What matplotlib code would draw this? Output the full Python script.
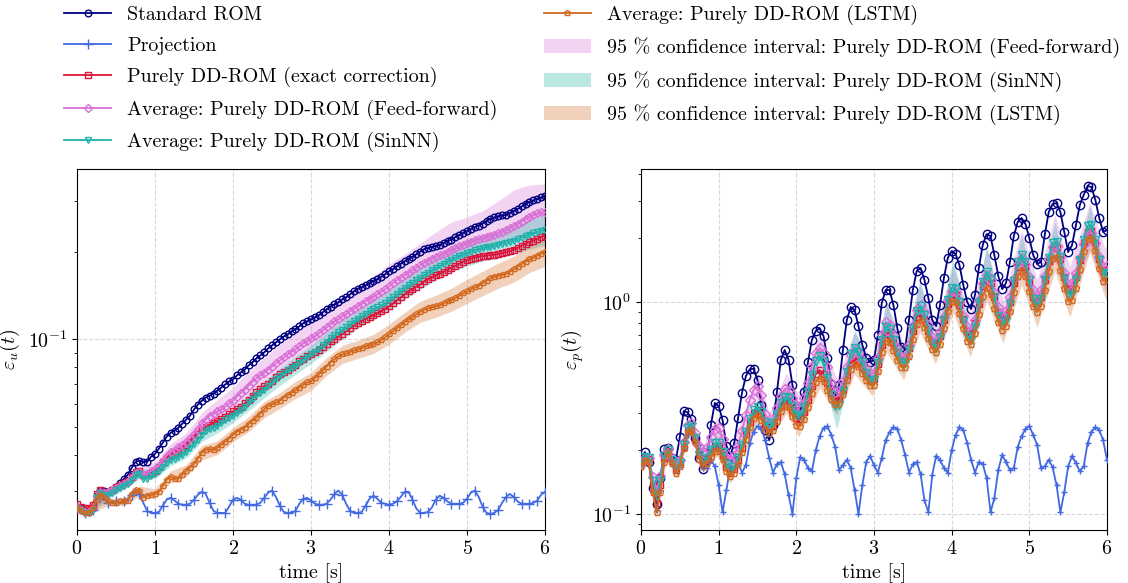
import numpy as np
import matplotlib
matplotlib.use("Agg")
import matplotlib.pyplot as plt
from matplotlib.ticker import NullFormatter

plt.rcParams.update({
    "font.family": "serif",
    "font.serif": ["cmr10"],
    "mathtext.fontset": "cm",
    "axes.formatter.use_mathtext": True,
    "font.size": 14.4,
})

# ---------------- data ----------------
t = np.round(np.arange(0, 6.0001, 0.05), 2)          # 121 samples
t_band_u = np.round(np.arange(0, 6.0001, 0.2), 2)    # 31 samples
t_band_p = [0, 0.08, 0.2, 0.33, 0.46, 0.63, 0.8, 0.98, 1.15, 1.5, 1.65, 1.87, 2.03,
            2.3, 2.52, 2.75, 2.98, 3.16, 3.38, 3.59, 3.79, 4.02, 4.24, 4.45, 4.66,
            4.9, 5.1, 5.33, 5.52, 5.78, 5.97, 6.0]

labels = ["Standard ROM", "Projection", "Purely DD-ROM (exact correction)",
          "Average: Purely DD-ROM (Feed-forward)", "Average: Purely DD-ROM (SinNN)",
          "Average: Purely DD-ROM (LSTM)",
          "95 % confidence interval: Purely DD-ROM (Feed-forward)",
          "95 % confidence interval: Purely DD-ROM (SinNN)",
          "95 % confidence interval: Purely DD-ROM (LSTM)"]

# velocity error eps_u
rom_u = [0.0265,0.0261,0.0256,0.0256,0.0263,0.0289,0.0300,0.0300,0.0298,0.0303,
         0.0310,0.0320,0.0330,0.0341,0.0360,0.0378,0.0381,0.0378,0.0378,0.0394,
         0.0403,0.0420,0.0440,0.0462,0.0476,0.0484,0.0496,0.0512,0.0529,0.0546,
         0.0573,0.0596,0.0615,0.0630,0.0640,0.0650,0.0666,0.0682,0.0699,0.0716,
         0.0727,0.0751,0.0769,0.0787,0.0813,0.0833,0.0860,0.0880,0.0902,0.0931,
         0.0953,0.0976,0.1000,0.1024,0.1040,0.1065,0.1083,0.1109,0.1136,0.1154,
         0.1173,0.1192,0.1211,0.1240,0.1270,0.1295,0.1321,0.1342,0.1375,0.1397,
         0.1431,0.1465,0.1495,0.1513,0.1538,0.1563,0.1588,0.1613,0.1645,0.1678,
         0.1719,0.1746,0.1788,0.1824,0.1861,0.1891,0.1921,0.1968,0.2007,0.2048,
         0.2064,0.2081,0.2098,0.2114,0.2148,0.2183,0.2209,0.2254,0.2290,0.2327,
         0.2364,0.2402,0.2440,0.2470,0.2509,0.2560,0.2601,0.2633,0.2654,0.2676,
         0.2686,0.2729,0.2773,0.2817,0.2874,0.2931,0.2978,0.3014,0.3050,0.3087,
         0.3112]
proj_u = [0.0263,0.0256,0.0252,0.0250,0.0258,0.0280,0.0286,0.0280,0.0273,0.0276,
          0.0276,0.0273,0.0276,0.0282,0.0291,0.0298,0.0293,0.0273,0.0256,0.0252,
          0.0252,0.0254,0.0267,0.0280,0.0284,0.0278,0.0271,0.0269,0.0269,0.0271,
          0.0280,0.0291,0.0298,0.0293,0.0273,0.0256,0.0252,0.0252,0.0252,0.0265,
          0.0280,0.0284,0.0280,0.0271,0.0269,0.0269,0.0269,0.0273,0.0284,0.0296,
          0.0301,0.0286,0.0267,0.0254,0.0252,0.0252,0.0256,0.0271,0.0282,0.0284,
          0.0278,0.0271,0.0269,0.0269,0.0271,0.0280,0.0293,0.0301,0.0291,0.0271,
          0.0256,0.0252,0.0252,0.0254,0.0267,0.0282,0.0289,0.0282,0.0273,0.0271,
          0.0269,0.0271,0.0276,0.0286,0.0298,0.0298,0.0280,0.0261,0.0252,0.0252,
          0.0254,0.0263,0.0280,0.0289,0.0284,0.0276,0.0271,0.0271,0.0271,0.0273,
          0.0282,0.0296,0.0301,0.0286,0.0265,0.0252,0.0250,0.0252,0.0258,0.0273,
          0.0286,0.0293,0.0286,0.0276,0.0271,0.0271,0.0271,0.0273,0.0278,0.0291,
          0.0298]
exact_u = [0.0271,0.0265,0.0261,0.0261,0.0269,0.0293,0.0303,0.0298,0.0298,0.0303,
           0.0310,0.0315,0.0320,0.0325,0.0336,0.0349,0.0352,0.0341,0.0341,0.0346,
           0.0352,0.0363,0.0378,0.0390,0.0400,0.0406,0.0413,0.0420,0.0433,0.0444,
           0.0458,0.0473,0.0488,0.0500,0.0508,0.0514,0.0521,0.0531,0.0541,0.0553,
           0.0564,0.0575,0.0584,0.0601,0.0620,0.0640,0.0658,0.0675,0.0691,0.0704,
           0.0721,0.0739,0.0757,0.0774,0.0787,0.0803,0.0819,0.0839,0.0856,0.0873,
           0.0891,0.0905,0.0919,0.0942,0.0965,0.0984,0.1004,0.1024,0.1044,0.1066,
           0.1092,0.1118,0.1140,0.1159,0.1178,0.1196,0.1210,0.1230,0.1250,0.1275,
           0.1300,0.1332,0.1364,0.1397,0.1431,0.1465,0.1489,0.1519,0.1550,0.1587,
           0.1613,0.1638,0.1665,0.1685,0.1711,0.1739,0.1766,0.1795,0.1824,0.1853,
           0.1876,0.1899,0.1914,0.1929,0.1937,0.1944,0.1952,0.1960,0.1968,0.1984,
           0.2000,0.2015,0.2040,0.2071,0.2105,0.2140,0.2165,0.2191,0.2218,0.2254,
           0.2280]
ff_u = [0.0265,0.0258,0.0254,0.0254,0.0261,0.0286,0.0298,0.0296,0.0298,0.0303,
        0.0307,0.0312,0.0318,0.0323,0.0333,0.0346,0.0349,0.0341,0.0344,0.0352,
        0.0358,0.0366,0.0381,0.0397,0.0409,0.0416,0.0426,0.0433,0.0444,0.0458,
        0.0473,0.0492,0.0513,0.0529,0.0546,0.0555,0.0564,0.0573,0.0586,0.0601,
        0.0615,0.0635,0.0655,0.0671,0.0693,0.0715,0.0734,0.0751,0.0768,0.0787,
        0.0806,0.0827,0.0846,0.0866,0.0887,0.0908,0.0923,0.0946,0.0969,0.0984,
        0.1008,0.1024,0.1048,0.1074,0.1100,0.1127,0.1154,0.1173,0.1200,0.1220,
        0.1250,0.1275,0.1300,0.1326,0.1353,0.1381,0.1403,0.1431,0.1460,0.1489,
        0.1525,0.1563,0.1600,0.1631,0.1665,0.1697,0.1732,0.1766,0.1802,0.1838,
        0.1868,0.1899,0.1929,0.1952,0.1976,0.2007,0.2032,0.2065,0.2097,0.2122,
        0.2149,0.2174,0.2200,0.2218,0.2236,0.2254,0.2271,0.2299,0.2327,0.2354,
        0.2383,0.2422,0.2459,0.2499,0.2549,0.2601,0.2642,0.2685,0.2718,0.2749,
        0.2761]
sin_u = [0.0263,0.0256,0.0252,0.0252,0.0258,0.0286,0.0296,0.0291,0.0291,0.0296,
         0.0303,0.0307,0.0312,0.0318,0.0328,0.0341,0.0344,0.0331,0.0331,0.0338,
         0.0344,0.0352,0.0363,0.0375,0.0384,0.0387,0.0394,0.0400,0.0409,0.0423,
         0.0436,0.0451,0.0469,0.0484,0.0492,0.0496,0.0504,0.0514,0.0525,0.0535,
         0.0546,0.0559,0.0571,0.0586,0.0606,0.0625,0.0642,0.0655,0.0671,0.0688,
         0.0710,0.0730,0.0745,0.0763,0.0781,0.0796,0.0812,0.0832,0.0850,0.0869,
         0.0887,0.0905,0.0927,0.0953,0.0980,0.1008,0.1032,0.1057,0.1079,0.1100,
         0.1127,0.1154,0.1178,0.1200,0.1225,0.1250,0.1270,0.1290,0.1310,0.1332,
         0.1364,0.1397,0.1431,0.1465,0.1501,0.1538,0.1562,0.1600,0.1631,0.1665,
         0.1697,0.1732,0.1760,0.1788,0.1817,0.1853,0.1883,0.1914,0.1937,0.1960,
         0.1984,0.2007,0.2032,0.2048,0.2064,0.2081,0.2088,0.2105,0.2122,0.2140,
         0.2156,0.2174,0.2191,0.2218,0.2245,0.2271,0.2299,0.2326,0.2345,0.2373,
         0.2392]
lstm_u = [0.0263,0.0256,0.0252,0.0252,0.0263,0.0280,0.0291,0.0284,0.0276,0.0273,
          0.0273,0.0276,0.0276,0.0278,0.0293,0.0303,0.0301,0.0284,0.0289,0.0291,
          0.0293,0.0298,0.0312,0.0328,0.0336,0.0331,0.0331,0.0341,0.0352,0.0361,
          0.0372,0.0387,0.0406,0.0416,0.0418,0.0416,0.0423,0.0433,0.0444,0.0455,
          0.0469,0.0480,0.0488,0.0496,0.0510,0.0523,0.0537,0.0554,0.0573,0.0589,
          0.0598,0.0606,0.0615,0.0630,0.0642,0.0655,0.0668,0.0682,0.0696,0.0710,
          0.0716,0.0736,0.0757,0.0781,0.0806,0.0832,0.0853,0.0873,0.0887,0.0894,
          0.0905,0.0916,0.0923,0.0934,0.0946,0.0953,0.0965,0.0976,0.0996,0.1016,
          0.1040,0.1066,0.1092,0.1118,0.1145,0.1173,0.1196,0.1220,0.1245,0.1265,
          0.1280,0.1290,0.1300,0.1310,0.1332,0.1353,0.1370,0.1392,0.1414,0.1443,
          0.1465,0.1489,0.1513,0.1531,0.1563,0.1594,0.1626,0.1646,0.1658,0.1671,
          0.1685,0.1711,0.1746,0.1781,0.1817,0.1853,0.1891,0.1914,0.1944,0.1976,
          0.2000]
ff_u_hi = [0.0271,0.0267,0.0307,0.0331,0.0366,0.0378,0.0436,0.0476,0.0559,0.0620,0.0682,
           0.0774,0.0866,0.0961,0.1057,0.1154,0.1270,0.1386,0.1513,0.1651,0.1817,0.1968,
           0.2149,0.2345,0.2539,0.2642,0.2773,0.3001,0.3277,0.3410,0.3438]
ff_u_lo = [0.0258,0.0254,0.0289,0.0305,0.0333,0.0341,0.0387,0.0420,0.0480,0.0525,0.0573,
           0.0645,0.0716,0.0787,0.0860,0.0931,0.1016,0.1109,0.1200,0.1290,0.1397,0.1513,
           0.1638,0.1746,0.1832,0.1937,0.2015,0.2097,0.2200,0.2345,0.2440]
sin_u_hi = [0.0269,0.0265,0.0301,0.0323,0.0358,0.0358,0.0403,0.0430,0.0496,0.0533,0.0578,
            0.0645,0.0716,0.0793,0.0873,0.0953,0.1057,0.1164,0.1270,0.1375,0.1489,0.1638,
            0.1788,0.1937,0.2081,0.2200,0.2290,0.2364,0.2459,0.2580,0.2685]
sin_u_lo = [0.0256,0.0252,0.0282,0.0303,0.0331,0.0331,0.0366,0.0390,0.0444,0.0476,0.0516,
            0.0568,0.0630,0.0693,0.0757,0.0826,0.0908,0.1000,0.1092,0.1173,0.1260,0.1375,
            0.1489,0.1600,0.1718,0.1788,0.1861,0.1906,0.1968,0.2048,0.2114]
lstm_u_hi = [0.0269,0.0269,0.0284,0.0284,0.0312,0.0305,0.0352,0.0369,0.0430,0.0447,0.0496,
             0.0541,0.0610,0.0655,0.0716,0.0768,0.0866,0.0953,0.0992,0.1040,0.1127,0.1240,
             0.1353,0.1420,0.1501,0.1613,0.1718,0.1832,0.1937,0.2097,0.2218]
lstm_u_lo = [0.0256,0.0254,0.0267,0.0267,0.0289,0.0282,0.0320,0.0336,0.0384,0.0400,0.0444,
             0.0480,0.0537,0.0578,0.0625,0.0666,0.0751,0.0826,0.0860,0.0894,0.0961,0.1057,
             0.1145,0.1192,0.1250,0.1332,0.1414,0.1501,0.1575,0.1700,0.1788]

# pressure error eps_p
rom_p = [0.180,0.196,0.176,0.133,0.112,0.148,0.203,0.205,0.184,0.180,
         0.231,0.306,0.302,0.280,0.228,0.184,0.163,0.180,0.263,0.334,
         0.323,0.278,0.210,0.188,0.216,0.284,0.373,0.447,0.482,0.485,
         0.429,0.327,0.249,0.223,0.263,0.377,0.533,0.594,0.533,0.406,
         0.317,0.306,0.377,0.521,0.662,0.730,0.754,0.691,0.544,0.411,
         0.356,0.406,0.594,0.822,0.947,0.917,0.770,0.627,0.544,0.521,
         0.533,0.699,0.989,1.139,1.139,0.968,0.754,0.613,0.600,0.822,
         1.139,1.400,1.447,1.270,1.044,0.822,0.770,0.968,1.298,1.613,
         1.740,1.683,1.495,1.203,1.000,0.926,1.079,1.447,1.857,2.092,
         2.047,1.666,1.326,1.151,1.229,1.543,2.047,2.383,2.491,2.332,
         2.004,1.666,1.510,1.543,2.092,2.656,2.898,2.931,2.656,2.138,
         1.720,1.857,2.307,2.868,3.198,3.525,3.486,3.028,2.491,2.138,
         2.186]
proj_p = [0.170,0.180,0.176,0.130,0.104,0.130,0.180,0.194,0.176,0.161,
          0.170,0.205,0.236,0.255,0.236,0.212,0.165,0.165,0.180,0.168,
          0.137,0.102,0.130,0.168,0.188,0.174,0.157,0.170,0.216,0.244,
          0.260,0.252,0.223,0.184,0.157,0.172,0.176,0.154,0.123,0.100,
          0.148,0.186,0.180,0.165,0.159,0.200,0.233,0.255,0.260,0.236,
          0.207,0.161,0.170,0.180,0.165,0.130,0.100,0.137,0.176,0.188,
          0.170,0.157,0.184,0.223,0.244,0.257,0.252,0.223,0.190,0.157,
          0.172,0.176,0.154,0.116,0.102,0.153,0.188,0.180,0.165,0.157,
          0.200,0.236,0.257,0.249,0.216,0.180,0.157,0.176,0.172,0.148,
          0.102,0.119,0.161,0.190,0.176,0.161,0.165,0.207,0.233,0.252,
          0.260,0.236,0.212,0.165,0.168,0.180,0.166,0.137,0.102,0.127,
          0.168,0.188,0.174,0.159,0.168,0.216,0.244,0.257,0.249,0.223,
          0.180]
exact_p = [0.172,0.184,0.182,0.137,0.113,0.137,0.184,0.198,0.178,0.161,
           0.172,0.207,0.249,0.255,0.223,0.190,0.176,0.182,0.196,0.210,
           0.210,0.190,0.166,0.157,0.163,0.180,0.205,0.238,0.272,0.299,
           0.309,0.296,0.266,0.255,0.263,0.290,0.323,0.345,0.341,0.309,
           0.284,0.280,0.302,0.345,0.402,0.457,0.478,0.457,0.415,0.373,
           0.348,0.352,0.389,0.452,0.516,0.544,0.533,0.493,0.457,0.433,
           0.433,0.510,0.627,0.714,0.699,0.641,0.581,0.538,0.538,0.607,
           0.730,0.849,0.888,0.831,0.730,0.655,0.634,0.691,0.822,0.978,
           1.090,1.079,0.968,0.831,0.730,0.706,0.796,0.978,1.190,1.298,
           1.229,1.055,0.897,0.822,0.858,1.000,1.229,1.462,1.561,1.462,
           1.242,1.055,0.989,1.055,1.270,1.561,1.798,1.816,1.594,1.311,
           1.151,1.165,1.311,1.578,1.898,2.138,2.162,1.898,1.594,1.400,
           1.416]
ff_p = [0.174,0.184,0.184,0.150,0.130,0.151,0.190,0.203,0.184,0.168,
        0.180,0.218,0.263,0.269,0.241,0.210,0.196,0.205,0.231,0.252,
        0.255,0.226,0.194,0.180,0.188,0.210,0.246,0.293,0.345,0.385,
        0.402,0.364,0.296,0.269,0.280,0.317,0.360,0.389,0.385,0.352,
        0.327,0.323,0.352,0.415,0.498,0.575,0.607,0.575,0.493,0.415,
        0.377,0.381,0.424,0.493,0.562,0.594,0.575,0.533,0.488,0.457,
        0.463,0.544,0.699,0.804,0.779,0.699,0.607,0.556,0.550,0.627,
        0.770,0.917,0.968,0.897,0.779,0.684,0.662,0.722,0.849,1.022,
        1.126,1.114,1.000,0.858,0.762,0.738,0.822,1.022,1.229,1.341,
        1.270,1.103,0.947,0.868,0.907,1.055,1.283,1.510,1.613,1.510,
        1.311,1.139,1.067,1.139,1.326,1.594,1.816,1.837,1.629,1.371,
        1.215,1.229,1.371,1.613,1.877,2.092,2.116,1.898,1.629,1.462,
        1.479]
sin_p = [0.174,0.186,0.184,0.143,0.122,0.143,0.188,0.200,0.180,0.163,
         0.174,0.212,0.255,0.260,0.228,0.190,0.176,0.184,0.200,0.216,
         0.216,0.196,0.172,0.161,0.166,0.184,0.212,0.244,0.280,0.309,
         0.320,0.302,0.272,0.257,0.269,0.296,0.334,0.356,0.352,0.323,
         0.293,0.290,0.320,0.377,0.452,0.527,0.556,0.521,0.438,0.364,
         0.323,0.327,0.381,0.467,0.568,0.607,0.581,0.521,0.463,0.424,
         0.429,0.516,0.662,0.762,0.746,0.662,0.575,0.521,0.516,0.594,
         0.746,0.907,0.957,0.868,0.738,0.634,0.607,0.677,0.822,1.022,
         1.165,1.151,1.000,0.813,0.691,0.662,0.762,0.989,1.242,1.385,
         1.283,1.055,0.858,0.779,0.813,0.978,1.256,1.543,1.666,1.543,
         1.270,1.033,0.957,1.033,1.270,1.613,1.898,1.918,1.629,1.283,
         1.090,1.090,1.270,1.578,1.961,2.282,2.307,1.961,1.578,1.355,
         1.371]
lstm_p = [0.168,0.180,0.176,0.127,0.102,0.127,0.176,0.194,0.174,0.157,
          0.168,0.205,0.244,0.249,0.218,0.182,0.168,0.174,0.186,0.198,
          0.198,0.182,0.159,0.151,0.156,0.172,0.196,0.226,0.257,0.284,
          0.293,0.278,0.253,0.241,0.249,0.275,0.306,0.323,0.320,0.290,
          0.263,0.260,0.280,0.320,0.373,0.420,0.438,0.424,0.385,0.348,
          0.330,0.334,0.368,0.429,0.485,0.510,0.498,0.463,0.429,0.406,
          0.406,0.473,0.581,0.658,0.647,0.594,0.533,0.493,0.493,0.556,
          0.669,0.787,0.822,0.762,0.673,0.600,0.581,0.634,0.754,0.907,
          1.011,1.000,0.888,0.754,0.658,0.634,0.714,0.878,1.067,1.165,
          1.090,0.942,0.804,0.741,0.770,0.907,1.114,1.326,1.416,1.326,
          1.126,0.957,0.897,0.957,1.139,1.400,1.613,1.629,1.416,1.165,
          1.011,1.022,1.165,1.424,1.740,1.981,2.004,1.750,1.440,1.260,
          1.283]
ff_p_hi = [0.182,0.196,0.135,0.214,0.178,0.290,0.210,0.287,0.196,0.467,0.299,0.463,0.364,
           0.714,0.434,0.722,0.527,1.000,0.634,1.229,0.770,1.479,0.868,1.779,1.033,2.186,
           1.270,2.573,1.462,2.962,1.798,1.837]
ff_p_lo = [0.165,0.178,0.122,0.194,0.157,0.252,0.180,0.233,0.163,0.360,0.241,0.352,0.284,
           0.538,0.330,0.521,0.397,0.706,0.473,0.840,0.575,0.989,0.634,1.151,0.738,1.371,
           0.897,1.561,1.000,1.759,1.139,1.114]
sin_p_hi = [0.182,0.198,0.129,0.212,0.172,0.278,0.186,0.239,0.172,0.356,0.275,0.410,0.306,
            0.647,0.348,0.738,0.457,1.000,0.556,1.270,0.662,1.595,0.722,1.837,0.840,2.070,
            1.044,2.383,1.165,2.837,1.447,1.495]
sin_p_lo = [0.165,0.180,0.113,0.192,0.153,0.246,0.165,0.203,0.150,0.296,0.239,0.330,0.263,
            0.504,0.252,0.550,0.381,0.699,0.457,0.858,0.544,1.055,0.594,1.242,0.691,1.495,
            0.858,1.759,0.957,2.092,1.190,1.229]
lstm_p_hi = [0.176,0.192,0.107,0.205,0.165,0.263,0.176,0.210,0.161,0.312,0.257,0.348,0.278,
             0.473,0.352,0.550,0.434,0.722,0.533,0.897,0.634,1.126,0.699,1.284,0.813,1.578,
             1.000,1.837,1.114,2.257,1.385,1.432]
lstm_p_lo = [0.157,0.172,0.0957,0.184,0.148,0.236,0.157,0.188,0.139,0.269,0.221,0.299,0.231,
             0.394,0.293,0.457,0.360,0.581,0.429,0.722,0.510,0.888,0.550,1.011,0.641,1.203,
             0.762,1.400,0.849,1.720,1.055,1.011]

# ---------------- style ----------------
C_ROM, C_PROJ, C_EX = "navy", "royalblue", "crimson"
C_FF, C_SIN, C_LSTM = "orchid", "lightseagreen", "chocolate"

fig = plt.figure(figsize=(11.28, 5.83), dpi=100)
axL = fig.add_axes([77/1128, 53/583, 468/1128, 361/583])
axR = fig.add_axes([641/1128, 53/583, 466/1128, 361/583])


def draw(ax, tb, bands, series, ms_big, ms_small, ms_proj, proj_every):
    hs = []
    for (lo, hi, c) in bands:
        hs.append(ax.fill_between(tb, lo, hi, color=c, alpha=0.3, lw=0, zorder=1))
    (rom, proj, ex, ff, sn, ls) = series
    lw = 1.3
    h = []
    h += ax.plot(t, rom, color=C_ROM, marker="o", ms=ms_big, mfc="none", mew=1.0, lw=lw, zorder=3)
    h += ax.plot(t, proj, color=C_PROJ, marker="+", ms=ms_proj, mew=1.0, lw=lw,
                 markevery=proj_every, zorder=3)
    h += ax.plot(t, ex, color=C_EX, marker="s", ms=ms_small, mfc="none", mew=1.0, lw=lw, zorder=3)
    h += ax.plot(t, ff, color=C_FF, marker="D", ms=ms_small, mfc="none", mew=1.0, lw=lw, zorder=3)
    h += ax.plot(t, sn, color=C_SIN, marker="v", ms=ms_small + 0.5, mfc="none", mew=1.0, lw=lw, zorder=3)
    h += ax.plot(t, ls, color=C_LSTM, marker="p", ms=ms_small, mfc="none", mew=1.0, lw=lw, zorder=3)
    return h + hs


handles = draw(axL, t_band_u,
               [(ff_u_lo, ff_u_hi, C_FF), (sin_u_lo, sin_u_hi, C_SIN), (lstm_u_lo, lstm_u_hi, C_LSTM)],
               (rom_u, proj_u, exact_u, ff_u, sin_u, lstm_u), 4.8, 4.3, 7.3, 2)
draw(axR, t_band_p,
     [(ff_p_lo, ff_p_hi, C_FF), (sin_p_lo, sin_p_hi, C_SIN), (lstm_p_lo, lstm_p_hi, C_LSTM)],
     (rom_p, proj_p, exact_p, ff_p, sin_p, lstm_p), 6.0, 5.0, 4.0, 1)

for ax, ylim, ylab in ((axL, (0.0220, 0.387), r"$\varepsilon_u(t)$"),
                       (axR, (0.0841, 4.24), r"$\varepsilon_p(t)$")):
    ax.set_yscale("log")
    ax.set_xlim(0, 6)
    ax.set_ylim(*ylim)
    ax.set_xticks(range(7))
    ax.yaxis.set_minor_formatter(NullFormatter())
    ax.grid(True, which="major", ls="--", color="#d8d8d8", lw=0.8)
    ax.set_axisbelow(True)
    ax.set_xlabel("time [s]")
    ax.set_ylabel(ylab)

fig.legend(handles, labels, ncol=2, loc="upper left", bbox_to_anchor=(0.050, 1.005),
           frameon=False, handlelength=2.35, handletextpad=0.8, columnspacing=2.3,
           labelspacing=0.62, borderaxespad=0.0)

fig.savefig("out.png", dpi=100)
